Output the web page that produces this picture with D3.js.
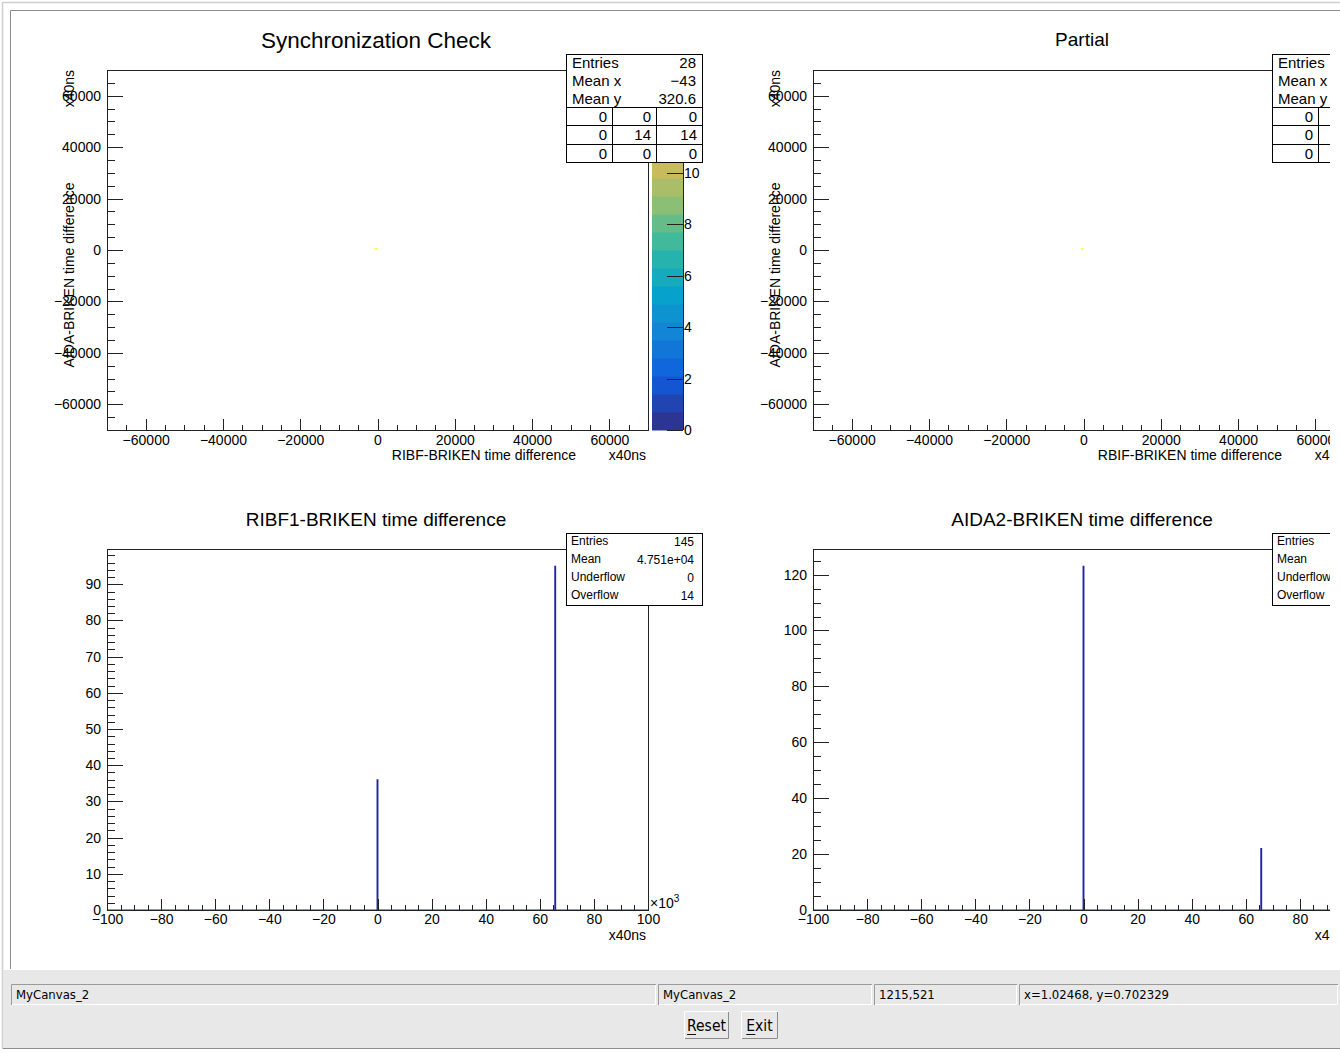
<!DOCTYPE html>
<html><head><meta charset="utf-8">
<script src="https://cdn.jsdelivr.net/npm/d3@7"></script>
<style>
body{margin:0;background:#fff;}
svg{display:block;}
text{font-family:"Liberation Sans",Arial,Helvetica,sans-serif;fill:#000;}
.gui{font-family:"Liberation Sans Narrow","DejaVu Sans Condensed","Liberation Sans",sans-serif;}
</style>
</head><body>
<svg id="c" width="1340" height="1053"></svg>
<script>
// ---------------- DATA ----------------
const padTitles = ["Synchronization Check", "Partial", "RIBF1-BRIKEN time difference", "AIDA2-BRIKEN time difference"];
const xTitles2d = ["RIBF-BRIKEN time difference", "RBIF-BRIKEN time difference"];
const yTitle2d = "AIDA-BRIKEN time difference";
const unitLabel = "x40ns";

const range2d = [-70000, 70000];
const ticks2d = [-60000, -40000, -20000, 0, 20000, 40000, 60000];
const minorStep2d = 5000;

// 2D cells (one filled cell per plot)
const cellXEdges = [-700, 100];
const cellYEdges = [150, 650];
const cellContents = [14];

// colour palette axis
const zRange = [0, 14];
const zTicks = [0, 2, 4, 6, 8, 10, 12, 14];
const zLevelCount = 20;

// stats boxes
const stats2dLabels = ["Entries", "Mean x", "Mean y"];
const stats2dValues = ["28", "\u221243", "320.6"];
const stats2dTable = [[0, 0, 0], [0, 14, 14], [0, 0, 0]];
const statsPartialValues = ["28", "\u221243", "320.6"];
const statsPartialTable = [[0, 0, 0], [0, 14, 14], [0, 0, 0]];

const stats1dLabels = ["Entries", "Mean", "Underflow", "Overflow"];
const statsRibfValues = ["145", "4.751e+04", "0", "14"];
const statsAidaValues = ["145", "4.751e+04", "0", "14"];

// 1D histograms (x in units of 10^3)
const histXRange = [-100, 100];
const histXTicks = [-100, -80, -60, -40, -20, 0, 20, 40, 60, 80, 100];
const histXMinorStep = 5;
const histBinWidth = 0.3;
const ribfBinCenters = [0.0, 65.7];
const ribfCounts = [36, 95];
const ribfYMax = 99.75;
const ribfYTicks = [0, 10, 20, 30, 40, 50, 60, 70, 80, 90];
const ribfYMinorStep = 2;
const aidaBinCenters = [0.0, 65.7];
const aidaCounts = [123, 22];
const aidaYMax = 129.15;
const aidaYTicks = [0, 20, 40, 60, 80, 100, 120];
const aidaYMinorStep = 5;

// status bar
const statusTexts = ["MyCanvas_2", "MyCanvas_2", "1215,521", "x=1.02468, y=0.702329"];
const buttonLabels = ["Reset", "Exit"];

// ---------------- DRAWING ----------------
const svg = d3.select("#c");
const W = 1340, H = 1053;
const DX = 706; // horizontal offset of right column pads

// bird palette
const birdStops = [0, 0.125, 0.25, 0.375, 0.5, 0.625, 0.75, 0.875, 1];
const birdColors = ["#2c3592", "#0f5cdd", "#1481d6", "#06a4ca", "#2eb7a4", "#87bf77", "#d1bb59", "#fec832", "#f9fb0e"];
const bird = d3.scaleLinear().domain(birdStops).range(birdColors).interpolate(d3.interpolateRgb);

svg.append("rect").attr("width", W).attr("height", H).attr("fill", "#fff");

const defs = svg.append("defs");
defs.append("clipPath").attr("id", "canvasClip").append("rect")
  .attr("x", 11).attr("y", 11).attr("width", 1319).attr("height", 958);

const canvas = svg.append("g").attr("clip-path", "url(#canvasClip)");

function axisStyle(g, fs) {
  g.select(".domain").remove();
  g.selectAll("line").attr("stroke", "#222").attr("shape-rendering", "crispEdges");
  g.attr("font-size", fs).attr("font-family", '"Liberation Sans",Arial,sans-serif');
  g.selectAll("text").attr("fill", "#000");
}
function minorValues(domain, step) {
  const out = [];
  const start = Math.ceil(domain[0] / step) * step;
  for (let v = start; v <= domain[1] + 1e-9; v += step) out.push(+v.toFixed(6));
  return out;
}
const fmt = d3.format("d");

function drawLeftAxis(g, scale, x, majors, minorStep, majLen, minLen, pad, fs) {
  const gm = g.append("g").attr("transform", `translate(${x},0)`);
  gm.call(d3.axisLeft(scale).tickValues(minorValues(scale.domain(), minorStep)).tickSize(-minLen).tickFormat(""));
  axisStyle(gm, fs);
  const gM = g.append("g").attr("transform", `translate(${x},0)`);
  gM.call(d3.axisLeft(scale).tickValues(majors).tickSize(-majLen).tickPadding(pad).tickFormat(fmt));
  axisStyle(gM, fs);
}
function drawBottomAxis(g, scale, y, majors, minorStep, majLen, minLen, pad, fs) {
  const gm = g.append("g").attr("transform", `translate(0,${y})`);
  gm.call(d3.axisBottom(scale).tickValues(minorValues(scale.domain(), minorStep)).tickSize(-minLen).tickFormat(""));
  axisStyle(gm, fs);
  const gM = g.append("g").attr("transform", `translate(0,${y})`);
  gM.call(d3.axisBottom(scale).tickValues(majors).tickSize(-majLen).tickPadding(pad).tickFormat(fmt));
  axisStyle(gM, fs);
}

function frame(g, x0, y0, x1, y1) {
  g.append("rect").attr("x", x0 + 0.5).attr("y", y0 + 0.5).attr("width", x1 - x0).attr("height", y1 - y0)
    .attr("fill", "none").attr("stroke", "#222").attr("stroke-width", 1).attr("shape-rendering", "crispEdges");
}

function stats2d(g, x0, y0, labels, values, table) {
  const w = 136, rowH = 18, topH = 53, tRow = 18.3;
  const h = topH + tRow * table.length;
  g.append("rect").attr("x", x0 + 0.5).attr("y", y0 + 0.5).attr("width", w).attr("height", h)
    .attr("fill", "#fff").attr("stroke", "#000").attr("shape-rendering", "crispEdges");
  labels.forEach((l, i) => {
    g.append("text").attr("x", x0 + 6).attr("y", y0 + 14 + i * rowH).attr("font-size", 15).text(l);
    g.append("text").attr("x", x0 + 130).attr("y", y0 + 14 + i * rowH).attr("font-size", 15)
      .attr("text-anchor", "end").text(values[i]);
  });
  const colEdges = [x0, x0 + 46, x0 + 90, x0 + w];
  table.forEach((row, r) => {
    const yt = y0 + topH + r * tRow;
    g.append("line").attr("x1", x0).attr("x2", x0 + w).attr("y1", yt + 0.5).attr("y2", yt + 0.5)
      .attr("stroke", "#000").attr("shape-rendering", "crispEdges");
    row.forEach((v, c) => {
      g.append("text").attr("x", colEdges[c + 1] - 5).attr("y", yt + 15).attr("font-size", 15)
        .attr("text-anchor", "end").text(v);
    });
  });
  [1, 2].forEach(c => {
    g.append("line").attr("x1", colEdges[c] + 0.5).attr("x2", colEdges[c] + 0.5)
      .attr("y1", y0 + topH).attr("y2", y0 + h)
      .attr("stroke", "#000").attr("shape-rendering", "crispEdges");
  });
}

function stats1d(g, x0, y0, labels, values) {
  const w = 136, h = 72, rowH = 18;
  g.append("rect").attr("x", x0 + 0.5).attr("y", y0 + 0.5).attr("width", w).attr("height", h)
    .attr("fill", "#fff").attr("stroke", "#000").attr("shape-rendering", "crispEdges");
  labels.forEach((l, i) => {
    g.append("text").attr("x", x0 + 5).attr("y", y0 + 12 + i * rowH).attr("font-size", 12).text(l);
    g.append("text").attr("x", x0 + 128).attr("y", y0 + 12.5 + i * rowH).attr("font-size", 12)
      .attr("text-anchor", "end").text(values[i]);
  });
}

// ---------- 2D pads ----------
function pad2d(dx, title, titleSize, xTitle, statVals, statTable, withPalette) {
  const g = canvas.append("g");
  const fx0 = 107 + dx, fx1 = 648 + dx, fy0 = 70, fy1 = 430;
  const x = d3.scaleLinear().domain(range2d).range([fx0, fx1]);
  const y = d3.scaleLinear().domain(range2d).range([fy1, fy0]);

  g.append("text").attr("x", 376 + dx).attr("y", titleSize > 20 ? 48 : 46).attr("text-anchor", "middle")
    .attr("font-size", titleSize).text(title);

  cellContents.forEach((z, i) => {
    g.append("rect")
      .attr("x", x(cellXEdges[0])).attr("width", x(cellXEdges[1]) - x(cellXEdges[0]))
      .attr("y", y(cellYEdges[1])).attr("height", y(cellYEdges[0]) - y(cellYEdges[1]))
      .attr("fill", bird(Math.min(1, Math.floor(z / (zRange[1] / zLevelCount)) / (zLevelCount - 1))));
  });

  drawLeftAxis(g, y, fx0, ticks2d, minorStep2d, 16, 8, 6, 14);
  drawBottomAxis(g, x, fy1, ticks2d, minorStep2d, 11, 5.5, 5, 14);
  frame(g, fx0, fy0, fx1, fy1);

  g.append("text").attr("x", 576 + dx).attr("y", 460).attr("text-anchor", "end").attr("font-size", 14).text(xTitle);
  g.append("text").attr("x", 646 + dx).attr("y", 460).attr("text-anchor", "end").attr("font-size", 14).text(unitLabel);
  g.append("text").attr("transform", `translate(${74 + dx},275) rotate(-90)`).attr("text-anchor", "middle")
    .attr("font-size", 14).text(yTitle2d);
  g.append("text").attr("transform", `translate(${74 + dx},70) rotate(-90)`).attr("text-anchor", "end")
    .attr("font-size", 14).text(unitLabel);

  if (withPalette) {
    const z = d3.scaleLinear().domain(zRange).range([fy1, fy0]);
    const step = (zRange[1] - zRange[0]) / zLevelCount;
    d3.range(zLevelCount).forEach(i => {
      g.append("rect").attr("x", 652 + dx).attr("width", 31)
        .attr("y", z((i + 1) * step)).attr("height", z(i * step) - z((i + 1) * step) + 0.5)
        .attr("fill", bird(i / (zLevelCount - 1)));
    });
    const gz = g.append("g").attr("transform", `translate(${683 + dx},0)`);
    gz.call(d3.axisRight(z).tickValues(zTicks).tickSize(-16).tickPadding(1).tickFormat(fmt));
    axisStyle(gz, 14);
    gz.selectAll("text").attr("text-anchor", "start");
    g.append("line").attr("x1", 683.5 + dx).attr("x2", 683.5 + dx).attr("y1", fy0).attr("y2", fy1)
      .attr("stroke", "#222").attr("shape-rendering", "crispEdges");
  }

  stats2d(g, 566 + dx, 54, stats2dLabels, statVals, statTable);
}

pad2d(0, padTitles[0], 22.5, xTitles2d[0], stats2dValues, stats2dTable, true);
pad2d(DX, padTitles[1], 19, xTitles2d[1], statsPartialValues, statsPartialTable, false);

// ---------- 1D pads ----------
function pad1d(dx, title, centers, counts, yMax, yTicks, yMinor, statVals) {
  const g = canvas.append("g");
  const fx0 = 107 + dx, fx1 = 648 + dx, fy0 = 549, fy1 = 910;
  const x = d3.scaleLinear().domain(histXRange).range([fx0, fx1]);
  const y = d3.scaleLinear().domain([0, yMax]).range([fy1, fy0]);

  g.append("text").attr("x", 376 + dx).attr("y", 526).attr("text-anchor", "middle")
    .attr("font-size", 19).text(title);

  const pts = [[histXRange[0], 0]];
  centers.forEach((c, i) => {
    const a = c - histBinWidth / 2, b = c + histBinWidth / 2;
    pts.push([a, 0], [a, counts[i]], [b, counts[i]], [b, 0]);
  });
  pts.push([histXRange[1], 0]);
  g.append("path").datum(pts)
    .attr("d", d3.line().x(d => x(d[0])).y(d => y(d[1])))
    .attr("fill", "none").attr("stroke", "#2424a8").attr("stroke-width", 1.1);

  drawLeftAxis(g, y, fx0, yTicks, yMinor, 16, 8, 6, 14);
  drawBottomAxis(g, x, fy1, histXTicks, histXMinorStep, 11, 5.5, 4, 14);
  frame(g, fx0, fy0, fx1, fy1);

  const t = g.append("text").attr("x", fx1 + 2).attr("y", 908).attr("font-size", 14);
  t.append("tspan").text("\u00d710");
  t.append("tspan").attr("dy", -6).attr("font-size", 10).text("3");
  g.append("text").attr("x", 646 + dx).attr("y", 940).attr("text-anchor", "end").attr("font-size", 14).text(unitLabel);

  stats1d(g, 566 + dx, 533, stats1dLabels, statVals);
}

pad1d(0, padTitles[2], ribfBinCenters, ribfCounts, ribfYMax, ribfYTicks, ribfYMinorStep, statsRibfValues);
pad1d(DX, padTitles[3], aidaBinCenters, aidaCounts, aidaYMax, aidaYTicks, aidaYMinorStep, statsAidaValues);

// ---------- window chrome ----------
svg.append("path").attr("d", "M10.5,969 V10.5 H1340").attr("stroke", "#8c8c8c").attr("fill", "none");
svg.append("path").attr("d", "M2.5,1049 V2.5 H1340").attr("stroke", "#cfcfcf").attr("stroke-width", 1.5).attr("fill", "none");

const gui = svg.append("g");
gui.append("rect").attr("x", 3).attr("y", 970).attr("width", W - 3).attr("height", 78).attr("fill", "#e8e8e8");
gui.append("line").attr("x1", 3).attr("x2", W).attr("y1", 1048.5).attr("y2", 1048.5).attr("stroke", "#8f8f8f");

const fieldEdges = [11, 658, 874, 1019, 1340];
statusTexts.forEach((s, i) => {
  const x0 = fieldEdges[i], x1 = fieldEdges[i + 1] - 2;
  gui.append("path").attr("d", `M${x0 + 0.5},1005 V984.5 H${x1}`).attr("stroke", "#9a9a9a").attr("fill", "none");
  gui.append("path").attr("d", `M${x0 + 1},1004.5 H${x1 - 0.5} V985`).attr("stroke", "#ffffff").attr("fill", "none");
  gui.append("text").attr("class", "gui").attr("x", x0 + 5).attr("y", 999).attr("font-size", 13).attr("fill", "#111").text(s);
});

const buttonBoxes = [[684, 729], [741, 778]];
buttonLabels.forEach((b, i) => {
  const [x0, x1] = buttonBoxes[i];
  gui.append("path").attr("d", `M${x0 + 0.5},1039 V1011.5 H${x1}`).attr("stroke", "#ffffff").attr("fill", "none");
  gui.append("path").attr("d", `M${x0 + 1},1038.5 H${x1 - 0.5} V1012`).attr("stroke", "#8a8a8a").attr("fill", "none");
  const tx = gui.append("text").attr("class", "gui").attr("x", (x0 + x1) / 2).attr("y", 1031)
    .attr("text-anchor", "middle").attr("font-size", 15.5).attr("fill", "#111").text(b);
  const bb = tx.node().getBBox();
  gui.append("line").attr("x1", bb.x).attr("x2", bb.x + 9).attr("y1", 1034.5).attr("y2", 1034.5)
    .attr("stroke", "#111");
});
</script>
</body></html>
